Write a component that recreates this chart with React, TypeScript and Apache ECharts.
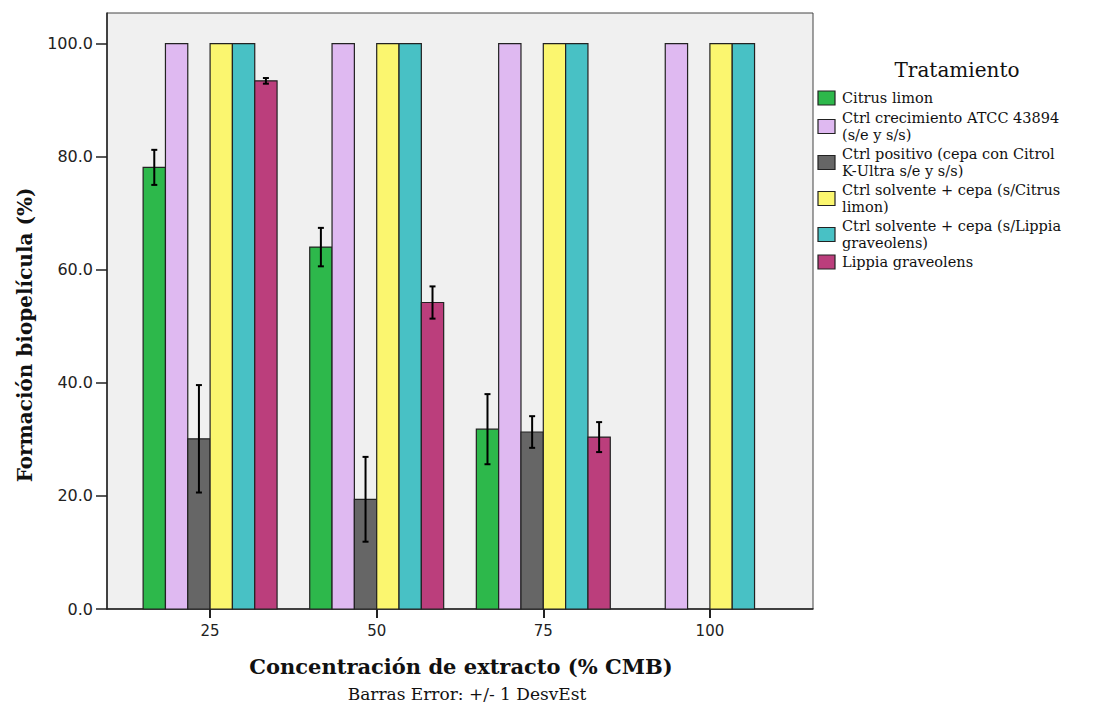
import React, { useEffect, useRef } from "react";
import * as echarts from "echarts";

const concentrations = [25, 50, 75, 100];
const yTicks = [0, 20, 40, 60, 80, 100];

const seriesNames = [
  "Citrus limon",
  "Ctrl crecimiento ATCC 43894\n(s/e y s/s)",
  "Ctrl positivo (cepa con Citrol\nK-Ultra s/e y s/s)",
  "Ctrl solvente + cepa (s/Citrus\nlimon)",
  "Ctrl solvente + cepa (s/Lippia\ngraveolens)",
  "Lippia graveolens",
];
const seriesColors = ["#2db84b", "#dfb9f1", "#666666", "#fbf66f", "#48c1c5", "#bb3e7c"];

// means per concentration (25, 50, 75, 100)
const citrusMean = [78.1, 64.0, 31.8, null];
const crecMean = [100, 100, 100, 100];
const positivoMean = [30.1, 19.4, 31.3, null];
const solvCitrusMean = [100, 100, 100, 100];
const solvLippiaMean = [100, 100, 100, 100];
const lippiaMean = [93.4, 54.2, 30.4, null];

// standard deviations
const citrusSd = [3.1, 3.4, 6.2, 0];
const crecSd = [0, 0, 0, 0];
const positivoSd = [9.5, 7.5, 2.8, 0];
const solvCitrusSd = [0, 0, 0, 0];
const solvLippiaSd = [0, 0, 0, 0];
const lippiaSd = [0.5, 2.85, 2.65, 0];

const means = [citrusMean, crecMean, positivoMean, solvCitrusMean, solvLippiaMean, lippiaMean];
const sds = [citrusSd, crecSd, positivoSd, solvCitrusSd, solvLippiaSd, lippiaSd];

const BAR_UNITS = 3.35;

export default function App() {
  const ref = useRef<HTMLDivElement>(null);
  useEffect(() => {
    if (!ref.current) return;
    const chart = echarts.init(ref.current, null, { renderer: "svg" });
    const n = seriesNames.length;
    const series = seriesNames.map((name, i) => ({
      type: "custom",
      name,
      encode: { x: 0, y: 1 },
      data: concentrations
        .map((c, k) => [c, means[i][k], sds[i][k]])
        .filter((d) => d[1] !== null),
      renderItem: (params: any, api: any) => {
        const x = api.value(0);
        const v = api.value(1);
        const sd = api.value(2);
        const base = api.coord([x, 0]);
        const top = api.coord([x, v]);
        const bw = api.size([BAR_UNITS, 0])[0];
        const cx = base[0] + (i - (n - 1) / 2) * bw;
        const children: any[] = [
          {
            type: "rect",
            shape: { x: cx - bw / 2, y: top[1], width: bw, height: base[1] - top[1] },
            style: { fill: seriesColors[i], stroke: "#222", lineWidth: 1.2 },
          },
        ];
        if (sd > 0) {
          const hi = api.coord([x, v + sd]);
          const lo = api.coord([x, v - sd]);
          const es = { stroke: "#000", lineWidth: 2 };
          children.push(
            { type: "line", shape: { x1: cx, y1: hi[1], x2: cx, y2: lo[1] }, style: es },
            { type: "line", shape: { x1: cx - 3, y1: hi[1], x2: cx + 3, y2: hi[1] }, style: es },
            { type: "line", shape: { x1: cx - 3, y1: lo[1], x2: cx + 3, y2: lo[1] }, style: es }
          );
        }
        return { type: "group", children };
      },
    }));

    const legendBlocks = [98, 126.5, 162.5, 198.5, 234.5, 262];
    const legendGraphics: any[] = [];
    seriesNames.forEach((name, i) => {
      const c = legendBlocks[i];
      legendGraphics.push({
        type: "rect",
        shape: { x: 818, y: c - 7, width: 17, height: 14 },
        style: { fill: seriesColors[i], stroke: "#222", lineWidth: 1.2 },
      });
      legendGraphics.push({
        type: "text",
        x: 842,
        y: c,
        style: {
          text: name,
          font: "14.5px 'DejaVu Serif'",
          fill: "#111",
          textAlign: "left",
          textVerticalAlign: "middle",
          lineHeight: 17,
        },
      });
    });

    chart.setOption({
      animation: false,
      backgroundColor: "#ffffff",
      grid: {
        left: 107,
        right: 284,
        top: 13,
        bottom: 95,
        show: true,
        backgroundColor: "#f0f0f0",
        borderColor: "#444",
        borderWidth: 1,
      },
      xAxis: {
        type: "value",
        min: 9.53,
        max: 115.47,
        splitLine: { show: false },
        axisLine: { show: true, lineStyle: { color: "#222", width: 1.5 } },
        axisTick: { show: true, length: 9, customValues: concentrations, lineStyle: { color: "#222", width: 2 } },
        axisLabel: {
          customValues: concentrations,
          margin: 14,
          color: "#222",
          fontFamily: "DejaVu Sans",
          fontSize: 15,
        },
      },
      yAxis: {
        type: "value",
        min: 0,
        max: 105.4,
        splitLine: { show: false },
        axisLine: { show: true, lineStyle: { color: "#222", width: 1.5 } },
        axisTick: { show: true, length: 11, customValues: yTicks, lineStyle: { color: "#222", width: 1.5 } },
        axisLabel: {
          customValues: yTicks,
          margin: 14,
          color: "#222",
          fontFamily: "DejaVu Sans",
          fontSize: 16,
          formatter: (v: number) => v.toFixed(1),
        },
      },
      series,
      graphic: [
        {
          type: "text",
          x: 957,
          y: 70,
          style: {
            text: "Tratamiento",
            font: "20px 'DejaVu Serif'",
            fill: "#111",
            textAlign: "center",
            textVerticalAlign: "middle",
          },
        },
        ...legendGraphics,
        {
          type: "text",
          x: 461,
          y: 666,
          style: {
            text: "Concentración de extracto (% CMB)",
            font: "bold 21px 'DejaVu Serif'",
            fill: "#111",
            textAlign: "center",
            textVerticalAlign: "middle",
          },
        },
        {
          type: "text",
          x: 467,
          y: 694,
          style: {
            text: "Barras Error: +/- 1 DesvEst",
            font: "17px 'DejaVu Serif'",
            fill: "#111",
            textAlign: "center",
            textVerticalAlign: "middle",
          },
        },
        {
          type: "text",
          x: 25,
          y: 335,
          rotation: Math.PI / 2,
          style: {
            text: "Formación biopelícula (%)",
            font: "bold 20px 'DejaVu Serif'",
            fill: "#111",
            textAlign: "center",
            textVerticalAlign: "middle",
          },
        },
      ],
    });
    return () => chart.dispose();
  }, []);
  return (
    <div
      ref={ref}
      style={{ position: "fixed", left: 0, top: 0, width: 1097, height: 704 }}
    />
  );
}
